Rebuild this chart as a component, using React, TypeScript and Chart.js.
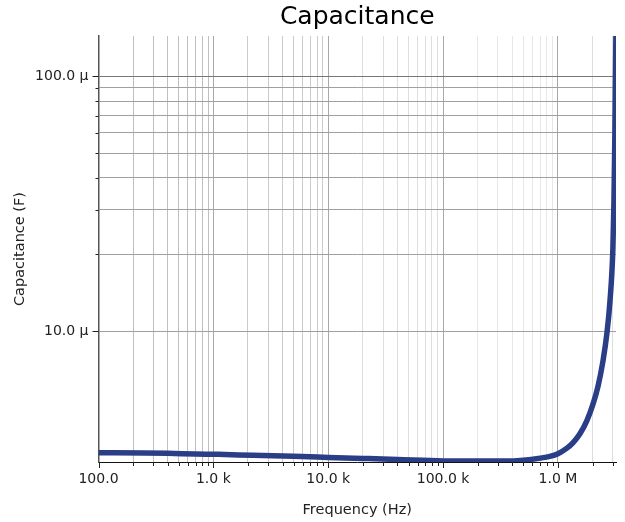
import React, { useEffect, useRef } from "react";
import { Chart, registerables } from "chart.js";

Chart.register(...registerables);

// Frequency (Hz) and capacitance (F)
const frequencies = [
  100, 250, 400, 700, 1100, 2200, 5000, 10000, 20000, 40000, 100000, 200000,
  350000, 500000, 700000, 850000, 1000000, 1197000, 1349000, 1553000, 1786000,
  2014000, 2228000, 2462000, 2667000, 2832000, 3006000, 3070000, 3130000,
  3200000,
];
const capacitance = [
  3.33e-6, 3.32e-6, 3.31e-6, 3.29e-6, 3.28e-6, 3.25e-6, 3.22e-6, 3.19e-6,
  3.16e-6, 3.13e-6, 3.09e-6, 3.085e-6, 3.085e-6, 3.11e-6, 3.17e-6, 3.22e-6,
  3.3e-6, 3.47e-6, 3.64e-6, 3.95e-6, 4.45e-6, 5.15e-6, 6.05e-6, 7.6e-6,
  9.8e-6, 13.0e-6, 21e-6, 32e-6, 60e-6, 160e-6,
];

const xTickValues = [
  100, 200, 300, 400, 500, 600, 700, 800, 900,
  1000, 2000, 3000, 4000, 5000, 6000, 7000, 8000, 9000,
  10000, 20000, 30000, 40000, 50000, 60000, 70000, 80000, 90000,
  100000, 200000, 300000, 400000, 500000, 600000, 700000, 800000, 900000,
  1000000, 2000000, 3000000,
];
const xMajorLabels: Record<string, string> = {
  "100": "100.0",
  "1000": "1.0 k",
  "10000": "10.0 k",
  "100000": "100.0 k",
  "1000000": "1.0 M",
};
const yTickValues = [1e-5, 2e-5, 3e-5, 4e-5, 5e-5, 6e-5, 7e-5, 8e-5, 9e-5, 1e-4];
const yMajorLabels: Record<string, string> = {
  "0.00001": "10.0 µ",
  "0.0001": "100.0 µ",
};

const chartTitle = "Capacitance";
const xTitle = "Frequency (Hz)";
const yTitle = "Capacitance (F)";

const FONT = "'DejaVu Sans', sans-serif";

function isMajor(v: number) {
  const l = Math.log10(v);
  return Math.abs(l - Math.round(l)) < 1e-9;
}

function xGridColor(v: number) {
  if (isMajor(v)) return v === 100 ? "rgba(0,0,0,0)" : "#a8a8a8";
  if (v < 1000) return "#c0c0c0";
  if (v < 10000) return "#cccccc";
  if (v < 100000) return "#dedede";
  if (v < 1000000) return "#e8e8e8";
  return "#dddddd";
}

const titlePlugin = {
  id: "customTitle",
  afterDraw(chart: any) {
    const { ctx, chartArea } = chart;
    ctx.save();
    ctx.font = `25px ${FONT}`;
    ctx.fillStyle = "#000";
    ctx.textAlign = "center";
    ctx.textBaseline = "middle";
    ctx.fillText(chartTitle, (chartArea.left + chartArea.right) / 2, 17);
    ctx.restore();
  },
};

const tickMarkPlugin = {
  id: "tickMarks",
  afterDraw(chart: any) {
    const { ctx } = chart;
    const xs = chart.scales.x;
    const ys = chart.scales.y;
    ctx.save();
    ctx.strokeStyle = "#222";
    ctx.lineWidth = 1;
    ctx.beginPath();
    for (const v of xTickValues) {
      const px = Math.round(xs.getPixelForValue(v)) + 0.5;
      const len = isMajor(v) ? 6 : 4;
      ctx.moveTo(px, xs.top);
      ctx.lineTo(px, xs.top + len);
    }
    for (const v of yTickValues) {
      const py = Math.round(ys.getPixelForValue(v)) + 0.5;
      const len = isMajor(v) ? 6 : 3;
      ctx.moveTo(ys.right, py);
      ctx.lineTo(ys.right - len, py);
    }
    ctx.stroke();
    ctx.restore();
  },
};

export default function App() {
  const ref = useRef<HTMLCanvasElement | null>(null);

  useEffect(() => {
    if (!ref.current) return;
    const chart = new Chart(ref.current, {
      type: "line",
      data: {
        datasets: [
          {
            data: frequencies.map((f, i) => ({ x: f, y: capacitance[i] })),
            borderColor: "#2a3d87",
            borderWidth: 5.5,
            pointRadius: 0,
            cubicInterpolationMode: "monotone",
            fill: false,
          },
        ],
      },
      options: {
        animation: false,
        responsive: true,
        maintainAspectRatio: false,
        layout: { padding: { top: 36, right: 9, left: 0, bottom: 0 } },
        plugins: {
          legend: { display: false },
          tooltip: { enabled: false },
          title: { display: false },
        },
        scales: {
          x: {
            type: "logarithmic",
            min: 100,
            max: 3.2e6,
            afterBuildTicks: (s: any) => {
              s.ticks = xTickValues.map((v) => ({ value: v }));
            },
            afterFit: (s: any) => {
              s.height = 60;
            },
            ticks: {
              autoSkip: false,
              maxRotation: 0,
              padding: 3,
              color: "#222",
              font: { family: FONT, size: 14 },
              callback: (v: any) => xMajorLabels[String(v)] ?? "",
            },
            grid: {
              color: (c: any) => xGridColor(c.tick ? c.tick.value : 0),
              lineWidth: 1,
              tickLength: 6,
              tickColor: "rgba(0,0,0,0)",
            },
            border: { display: true, color: "#111", width: 1 },
            title: {
              display: true,
              text: xTitle,
              color: "#222",
              font: { family: FONT, size: 14.5 },
              padding: { top: 4, bottom: 3 },
            },
          },
          y: {
            type: "logarithmic",
            min: 3.06e-6,
            max: 1.44e-4,
            afterBuildTicks: (s: any) => {
              s.ticks = yTickValues.map((v) => ({ value: v }));
            },
            afterFit: (s: any) => {
              s.width = 98.5;
            },
            ticks: {
              autoSkip: false,
              padding: 4,
              color: "#222",
              font: { family: FONT, size: 14 },
              callback: (v: any) => yMajorLabels[String(v)] ?? "",
            },
            grid: {
              color: (c: any) =>
                c.tick && c.tick.value === 1e-4 ? "#777777" : "#a0a0a0",
              lineWidth: 1,
              tickLength: 6,
              tickColor: "rgba(0,0,0,0)",
            },
            border: { display: true, color: "#555", width: 1.5 },
            title: {
              display: true,
              text: yTitle,
              color: "#222",
              font: { family: FONT, size: 14.5 },
              padding: { top: 12, bottom: 4 },
            },
          },
        },
      },
      plugins: [titlePlugin, tickMarkPlugin],
    } as any);
    return () => chart.destroy();
  }, []);

  return (
    <div
      style={{
        position: "fixed",
        left: 0,
        top: 0,
        width: 625,
        height: 522,
        background: "#fff",
      }}
    >
      <canvas ref={ref} />
    </div>
  );
}
